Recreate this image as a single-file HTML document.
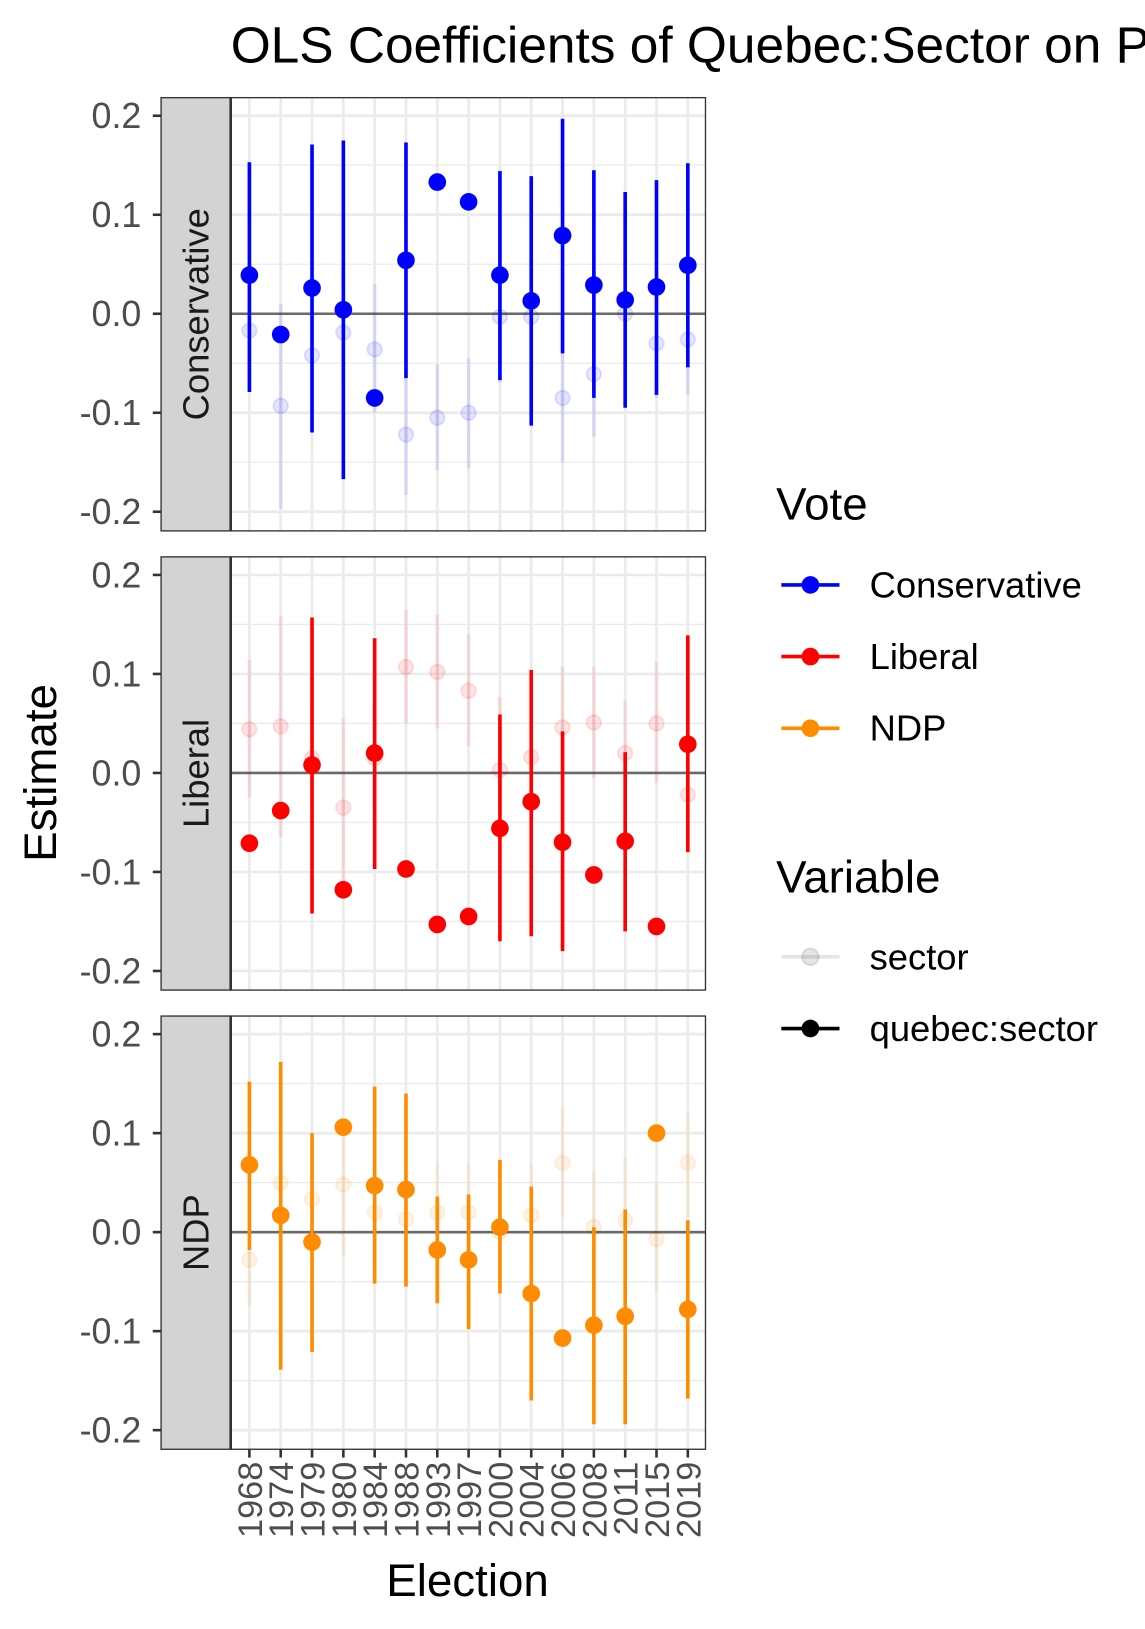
<!DOCTYPE html>
<html><head><meta charset="utf-8"><style>
html,body{margin:0;padding:0;background:#fff}
svg{display:block;font-family:"Liberation Sans",Arial,sans-serif}
</style></head><body>
<svg id="chart" width="1145" height="1629" viewBox="0 0 1102 1568" xmlns="http://www.w3.org/2000/svg">
<text x="222" y="60" font-size="49.5" fill="#000">OLS Coefficients of Quebec:Sector on Party Vote</text>
<text transform="translate(54,744) rotate(-90)" text-anchor="middle" font-size="44" fill="#000">Estimate</text>
<text x="450" y="1536" text-anchor="middle" font-size="44" fill="#000">Election</text>
<g id="panels"></g>
<g>
<text x="747" y="500" font-size="44">Vote</text>
<g><line x1="752" x2="808" y1="563" y2="563" stroke="#0000ff" stroke-width="3.5"/><circle cx="780" cy="563" r="8.5" fill="#0000ff"/><text x="837" y="575" font-size="35">Conservative</text></g>
<g><line x1="752" x2="808" y1="632" y2="632" stroke="#ff0000" stroke-width="3.5"/><circle cx="780" cy="632" r="8.5" fill="#ff0000"/><text x="837" y="644" font-size="35">Liberal</text></g>
<g><line x1="752" x2="808" y1="701" y2="701" stroke="#ff8c00" stroke-width="3.5"/><circle cx="780" cy="701" r="8.5" fill="#ff8c00"/><text x="837" y="713" font-size="35">NDP</text></g>
<text x="747" y="859" font-size="44">Variable</text>
<g><line x1="752" x2="808" y1="921" y2="921" stroke="#000" stroke-opacity="0.1" stroke-width="3.5"/><circle cx="780" cy="921" r="8" fill="#000" fill-opacity="0.1" stroke="#000" stroke-opacity="0.1" stroke-width="2"/><text x="837" y="933" font-size="35">sector</text></g>
<g><line x1="752" x2="808" y1="990" y2="990" stroke="#000" stroke-width="3.5"/><circle cx="780" cy="990" r="8.5" fill="#000"/><text x="837" y="1002" font-size="35">quebec:sector</text></g>
</g>
</svg>
<script>
const years = ["1968","1974","1979","1980","1984","1988","1993","1997","2000","2004","2006","2008","2011","2015","2019"];
const parties = ["Conservative","Liberal","NDP"];
const partyColors = ["#0000ff","#ff0000","#ff8c00"];
const yTicks = [-0.2,-0.1,0.0,0.1,0.2];
const yTickLabels = ["-0.2","-0.1","0.0","0.1","0.2"];
// quebec:sector estimates
const consQsEst = [0.039,-0.021,0.026,0.004,-0.085,0.054,0.133,0.113,0.039,0.013,0.079,0.029,0.014,0.027,0.049];
const consQsLo  = [-0.079,-0.021,-0.12,-0.167,-0.085,-0.065,0.133,0.113,-0.067,-0.113,-0.04,-0.085,-0.095,-0.082,-0.054];
const consQsHi  = [0.153,-0.021,0.171,0.175,-0.085,0.173,0.133,0.113,0.144,0.139,0.197,0.145,0.123,0.135,0.152];
const consSecEst = [-0.017,-0.093,-0.042,-0.019,-0.036,-0.122,-0.105,-0.1,-0.003,-0.003,-0.085,-0.061,0.0,-0.03,-0.026];
const consSecLo  = [-0.075,-0.197,-0.1,-0.075,-0.1,-0.183,-0.158,-0.156,-0.07,-0.06,-0.15,-0.124,-0.06,-0.085,-0.082];
const consSecHi  = [0.04,0.01,0.015,0.04,0.03,-0.06,-0.051,-0.045,0.06,0.055,-0.02,0.0,0.06,0.025,0.03];
const libQsEst = [-0.071,-0.038,0.008,-0.118,0.02,-0.097,-0.153,-0.145,-0.056,-0.029,-0.07,-0.103,-0.069,-0.155,0.029];
const libQsLo  = [-0.071,-0.038,-0.142,-0.118,-0.097,-0.097,-0.153,-0.145,-0.17,-0.165,-0.18,-0.103,-0.16,-0.155,-0.08];
const libQsHi  = [-0.071,-0.038,0.157,-0.118,0.136,-0.097,-0.153,-0.145,0.059,0.104,0.042,-0.103,0.021,-0.155,0.139];
const libSecEst = [0.044,0.047,0.015,-0.035,0.015,0.107,0.102,0.083,0.003,0.016,0.046,0.051,0.02,0.05,-0.022];
const libSecLo  = [-0.025,-0.065,-0.04,-0.11,-0.04,0.05,0.045,0.027,-0.07,-0.05,-0.01,-0.005,-0.03,-0.01,-0.08];
const libSecHi  = [0.114,0.159,0.07,0.055,0.07,0.165,0.16,0.14,0.077,0.08,0.107,0.107,0.073,0.112,0.035];
const ndpQsEst = [0.068,0.017,-0.01,0.106,0.047,0.043,-0.018,-0.028,0.005,-0.062,-0.107,-0.094,-0.085,0.1,-0.078];
const ndpQsLo  = [-0.018,-0.139,-0.121,0.106,-0.052,-0.055,-0.072,-0.098,-0.062,-0.17,-0.107,-0.194,-0.194,0.1,-0.168];
const ndpQsHi  = [0.152,0.172,0.1,0.106,0.147,0.14,0.036,0.038,0.073,0.046,-0.107,0.005,0.023,0.1,0.012];
const ndpSecEst = [-0.028,0.05,0.033,0.048,0.02,0.013,0.02,0.02,0.0,0.017,0.07,0.005,0.012,-0.007,0.07];
const ndpSecLo  = [-0.075,-0.01,-0.02,-0.025,-0.03,-0.04,-0.03,-0.03,-0.05,-0.03,0.015,-0.05,-0.04,-0.06,0.015];
const ndpSecHi  = [0.02,0.1,0.08,0.11,0.07,0.06,0.07,0.07,0.05,0.07,0.125,0.06,0.075,0.05,0.12];

const qsEst=[consQsEst,libQsEst,ndpQsEst], qsLo=[consQsLo,libQsLo,ndpQsLo], qsHi=[consQsHi,libQsHi,ndpQsHi];
const secEst=[consSecEst,libSecEst,ndpSecEst], secLo=[consSecLo,libSecLo,ndpSecLo], secHi=[consSecHi,libSecHi,ndpSecHi];

const NS="http://www.w3.org/2000/svg";
const root=document.getElementById('panels');
function mk(tag,attrs,parent){const e=document.createElementNS(NS,tag);for(const k in attrs)e.setAttribute(k,attrs[k]);parent.appendChild(e);return e;}
const stripL=155, plotL=222, plotR=679, panelH=417, panelGap=442, firstTop=94;
const pxPerUnit=953;
function xScale(i){return 240+i*(662-240)/(years.length-1);}
function yScale(v,p){const zero=302+p*panelGap;return zero - v*pxPerUnit;}

parties.forEach((party,p)=>{
  const top=firstTop+p*panelGap, bot=top+panelH;
  const g=mk('g',{},root);
  
  
  mk('rect',{x:plotL,y:top,width:plotR-plotL,height:panelH,fill:'#fff'},g);
  for(let v=-0.25;v<=0.25;v+=0.1){const y=yScale(v,p);if(y>top&&y<bot)mk('line',{x1:plotL,x2:plotR,y1:y,y2:y,stroke:'#ebebeb','stroke-width':1.3},g);}
  yTicks.forEach(v=>{const y=yScale(v,p);mk('line',{x1:plotL,x2:plotR,y1:y,y2:y,stroke:'#ebebeb','stroke-width':2.6},g);});
  years.forEach((yr,i)=>{const x=xScale(i);mk('line',{x1:x,x2:x,y1:top,y2:bot,stroke:'#ebebeb','stroke-width':2.6},g);});
  const col=partyColors[p];
  years.forEach((yr,i)=>{
    const x=xScale(i);
    const s=mk('g',{},g);
    
    
    mk('line',{x1:x,x2:x,y1:yScale(secLo[p][i],p),y2:yScale(secHi[p][i],p),stroke:col,'stroke-opacity':0.1,'stroke-width':3.5},s);
    mk('circle',{cx:x,cy:yScale(secEst[p][i],p),r:7,fill:col,'fill-opacity':0.1,stroke:col,'stroke-opacity':0.1,'stroke-width':2},s);
  });
  const z=mk('line',{x1:plotL,x2:plotR,y1:yScale(0,p),y2:yScale(0,p),stroke:'#000','stroke-opacity':0.55,'stroke-width':2.5},g);
  
  
  years.forEach((yr,i)=>{
    const x=xScale(i);
    const s=mk('g',{},g);
    
    
    mk('line',{x1:x,x2:x,y1:yScale(qsLo[p][i],p),y2:yScale(qsHi[p][i],p),stroke:col,'stroke-width':3.5},s);
    mk('circle',{cx:x,cy:yScale(qsEst[p][i],p),r:8.5,fill:col},s);
  });
  const st=mk('rect',{x:stripL,y:top,width:plotL-stripL,height:panelH,fill:'#d3d3d3',stroke:'#333','stroke-width':1.3},g);
  
  
  const t=mk('text',{transform:`translate(${(stripL+plotL)/2+12},${top+panelH/2}) rotate(-90)`,'text-anchor':'middle','font-size':35,fill:'#1a1a1a'},g);
  t.textContent=party;
  
  
  mk('rect',{x:plotL,y:top,width:plotR-plotL,height:panelH,fill:'none',stroke:'#333','stroke-width':1.3},g);
  mk('line',{x1:plotL,x2:plotL,y1:top,y2:bot,stroke:'#333','stroke-width':2.5},g);
  yTicks.forEach((v,k)=>{const y=yScale(v,p);
    mk('line',{x1:147,x2:155,y1:y,y2:y,stroke:'#333','stroke-width':2.5},g);
    const tl=mk('text',{x:136,y:y+12,'text-anchor':'end','font-size':34.5,fill:'#4d4d4d'},g);
    tl.textContent=yTickLabels[k];
    
    
  });
});
const xb=firstTop+2*panelGap+panelH;
years.forEach((yr,i)=>{const x=xScale(i);
  mk('line',{x1:x,x2:x,y1:xb,y2:xb+8,stroke:'#333','stroke-width':2.5},root);
  const tl=mk('text',{transform:`translate(${x+12},${xb+12}) rotate(-90)`,'text-anchor':'end','font-size':33,fill:'#4d4d4d'},root);
  tl.textContent=yr;
  
  
});
</script>
</body></html>
